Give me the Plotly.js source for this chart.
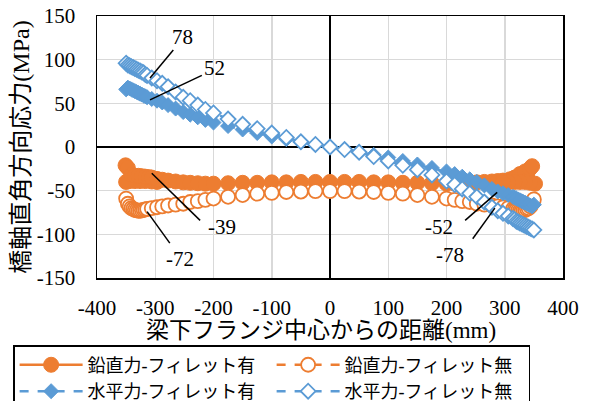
<!DOCTYPE html>
<html><head><meta charset="utf-8">
<script src="https://cdn.plot.ly/plotly-3.0.1.min.js"></script>
<style>html,body{margin:0;padding:0;background:#fff}</style>
</head><body><div id="chart" style="width:598px;height:401px"></div>
<script>
// ---- data ----
const seriesNames = ['鉛直力-フィレット有', '鉛直力-フィレット無', '水平力-フィレット有', '水平力-フィレット無'];

// common mesh (distance from flange centre, mm)
const xMesh = [-350,-347,-344,-341,-338,-335,-332,-329,-326,-323,-320,-317,-314,
  -306,-297,-288,-278,-265,-252,-240,-227,-214,-200,
  -175,-150,-125,-100,-75,-50,-25,
  0,
  25,50,75,100,125,150,175,
  200,214,227,240,252,265,278,288,297,306,
  314,317,320,323,326,329,332,335,338,341,344,347,350];

// 鉛直力-フィレット無
const vertNoFillet = [-59,-65,-68,-70,-71,-72,-72.5,-73,-73,-72.5,-72,-71.5,-71,
  -70,-69,-68,-67,-66,-65,-63,-62,-60.5,-59,
  -57,-55,-53.5,-52.5,-51.5,-51,-50.5,
  -50.5,
  -50.5,-51,-51.5,-52.5,-53.5,-55,-57,
  -59,-60.5,-62,-63,-65,-66,-67,-68,-69,-70,
  -71,-71.5,-72,-72.5,-73,-73,-72.5,-72,-71,-70,-68,-65,-60];

// 水平力-フィレット有
const horizFillet = [66,68,67,66,65,64,63,62,61,60,59,58,57,
  55,53,51,48,44,40,37,34,31,28,
  24,20,16,12,9,6,3,
  0,
  -3,-6,-9,-12,-16,-20,-24,
  -28,-31,-34,-37,-40,-44,-48,-51,-53,-55,
  -57,-58,-59,-60,-61,-62,-63,-64,-65,-66,-67,-68,-66];

// 水平力-フィレット無
const horizNoFillet = [96,94,93,92,91,90,89,88,87,86,85,83,82,
  79,76,73,69,63,57,53,48,43,39,
  32,26,21,16,11,6,3,
  0,
  -3,-6,-11,-16,-21,-26,-32,
  -39,-43,-48,-53,-57,-63,-69,-73,-76,-79,
  -82,-83,-85,-86,-87,-88,-89,-90,-91,-92,-93,-94,-95];

// 鉛直力-フィレット有 (two readings near each flange edge)
const vertFilletX = [-297,-306,-317,-326,-335,-344,-350,
  -351,-347,
  -341,-335,-329,-323,-317,-311,-306,
  -297,-288,-278,-265,-252,-240,-227,-214,-200,
  -175,-150,-125,-100,-75,-50,-25,
  0,
  25,50,75,100,125,150,175,
  200,214,227,240,252,265,278,288,297,
  309,317,326,335,343,347,
  352,344,335,326,317,306,297];
const vertFilletY = [-40,-39.5,-39,-39,-39,-39,-40,
  -21,-24,
  -32,-33,-33,-33.5,-34,-34.5,-35,
  -36.5,-37.5,-38.5,-39.5,-40.5,-41,-41.5,-42,-42,
  -41.5,-41,-41,-40.5,-40.5,-40,-40,
  -40,
  -40,-40,-40.5,-40.5,-41,-41,-41.5,
  -42,-42,-41.5,-41,-40.5,-40,-39.5,-39,-38.5,
  -37,-35,-31,-28,-25,-22,
  -42,-41,-40,-40,-40,-40.5,-41];

const xTickVals = [-400,-300,-200,-100,0,100,200,300,400];
const xTickText = ['-400','-300','-200','-100','0','100','200','300','400'];
const yTickVals = [-150,-100,-50,0,50,100,150];
const yTickText = ['-150','-100','-50','0','50','100','150'];

const xTitle = '梁下フランジ中心からの距離(mm)';
const yTitle = '橋軸直角方向応力(MPa)';

// data labels
const labelX = [-254, -199, -185, -257, 187, 206];
const labelY = [126, 90, -92, -128, -92, -124];
const labelText = ['78', '52', '-39', '-72', '-52', '-78'];
// leader lines
const leadX0 = [-269, -220, -306, -314, 232, 245];
const leadY0 = [111, 82, -30, -74, -84, -105];
const leadX1 = [-309, -309, -223, -275, 287, 283];
const leadY1 = [79, 54, -84, -110, -52, -70];

// ---- drawing ----
const ORANGE = '#ED7D31', BLUE = '#5B9BD5';
const serif = 'Times New Roman, Liberation Serif, DejaVu Serif, serif';
const cjk = 'Times New Roman, Liberation Serif, Noto Sans CJK JP, serif';

const traces = [
  {x: vertFilletX, y: vertFilletY, name: seriesNames[0], mode: 'lines+markers', type: 'scatter',
   line: {color: ORANGE, width: 2.5},
   marker: {symbol: 'circle', size: 15, color: ORANGE, line: {color: ORANGE, width: 1}}},
  {x: xMesh, y: vertNoFillet, name: seriesNames[1], mode: 'lines+markers', type: 'scatter',
   line: {color: ORANGE, width: 2.5, dash: 'dash'},
   marker: {symbol: 'circle', size: 14, color: '#fff', line: {color: ORANGE, width: 1.8}}},
  {x: xMesh, y: horizFillet, name: seriesNames[2], mode: 'lines+markers', type: 'scatter',
   line: {color: BLUE, width: 2.5, dash: 'dash'},
   marker: {symbol: 'diamond', size: 11.5, color: BLUE, line: {color: BLUE, width: 1}}},
  {x: xMesh, y: horizNoFillet, name: seriesNames[3], mode: 'lines+markers', type: 'scatter',
   line: {color: BLUE, width: 2.5, dash: 'dash'},
   marker: {symbol: 'diamond', size: 11.5, color: '#fff', line: {color: BLUE, width: 1.8}}}
];

const annotations = labelText.map((t, i) => ({
  x: labelX[i], y: labelY[i], xref: 'x', yref: 'y', text: t, showarrow: false,
  font: {family: serif, size: 21, color: '#000'}
}));
annotations.push({
  x: 0.48, y: -0.2, xref: 'paper', yref: 'paper', xanchor: 'center', yanchor: 'middle',
  text: xTitle, showarrow: false, font: {family: cjk, size: 23, color: '#000'}
});
const shapes = labelText.map((t, i) => ({
  type: 'line', xref: 'x', yref: 'y', x0: leadX0[i], y0: leadY0[i], x1: leadX1[i], y1: leadY1[i],
  line: {color: '#000', width: 1.5}
}));

const layout = {
  width: 598, height: 401,
  margin: {l: 97, r: 35, t: 16, b: 123, pad: 0, autoexpand: false},
  paper_bgcolor: '#fff', plot_bgcolor: '#fff',
  font: {family: serif, size: 21, color: '#000'},
  showlegend: true,
  xaxis: {
    range: [-400, 400], tickvals: xTickVals, ticktext: xTickText,
    showgrid: true, gridcolor: '#D9D9D9', gridwidth: 1.5,
    zeroline: true, zerolinecolor: '#000', zerolinewidth: 1.5,
    showline: true, linecolor: '#000', linewidth: 1.5, mirror: true,
    ticks: '', ticklabelstandoff: 10, automargin: false,
    tickfont: {family: serif, size: 21}
  },
  yaxis: {
    range: [-150, 150], tickvals: yTickVals, ticktext: yTickText,
    showgrid: true, gridcolor: '#D9D9D9', gridwidth: 1.5,
    zeroline: true, zerolinecolor: '#000', zerolinewidth: 1.5,
    showline: true, linecolor: '#000', linewidth: 1.5, mirror: true,
    ticks: '', ticklabelstandoff: 16, automargin: false,
    tickfont: {family: serif, size: 21},
    title: {text: yTitle, font: {family: cjk, size: 24}, standoff: 0}
  },
  legend: {
    orientation: 'h', x: -0.18, xanchor: 'left', y: -0.256, yanchor: 'top',
    bordercolor: '#000', borderwidth: 1.5, bgcolor: '#fff',
    font: {family: cjk, size: 18, color: '#000'},
    itemwidth: 63, entrywidth: 179, entrywidthmode: 'pixels', traceorder: 'normal'
  },
  annotations: annotations,
  shapes: shapes
};

Plotly.newPlot('chart', traces, layout, {displayModeBar: false, staticPlot: true});
</script>
</body></html>
